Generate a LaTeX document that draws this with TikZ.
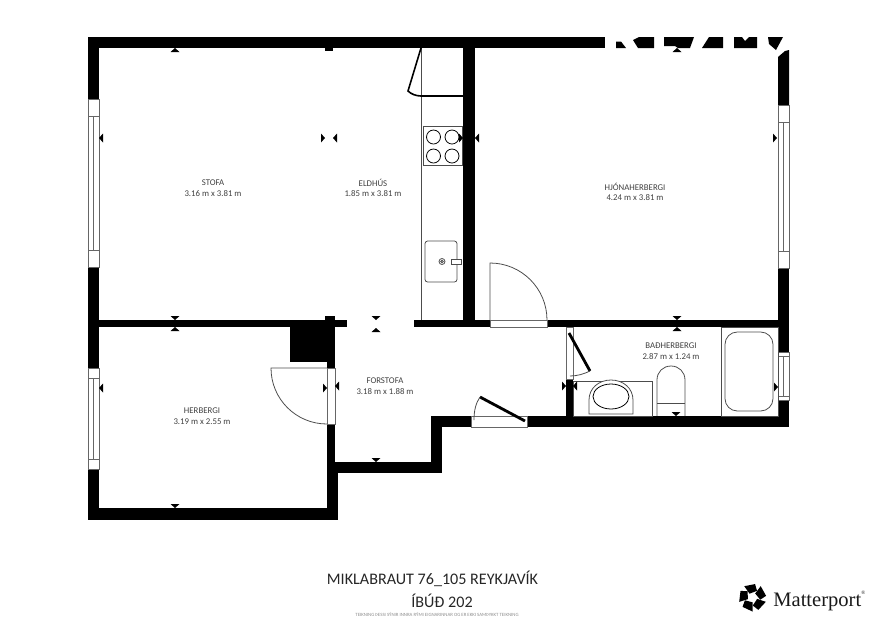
\documentclass[tikz,border=0pt]{standalone}
\usepackage{fontspec}
\setmainfont{Carlito}
\newfontfamily\logofont{Liberation Serif}
\tikzset{
  plan wall/.style={fill=black},
  plan gap/.style={draw=black!60, fill=white, line width=0.4pt},
  plan fixture/.style={draw=black!70, line width=0.45pt},
  plan door/.style={draw=black, line width=1.6pt},
  plan swing/.style={draw=black!70, line width=0.45pt},
  plan mark/.style={fill=black},
  plan room/.style={font=\fontsize{5}{6}\selectfont, text=black!75, inner sep=0pt},
  plan title/.style={font=\fontsize{9.17}{11}\selectfont, text=black!85, inner sep=0pt},
  plan tiny/.style={font=\fontsize{2.75}{3}\selectfont, text=black!45, inner sep=0pt},
}
\begin{document}
\begin{tikzpicture}[x=0.02cm, y=-0.02cm]
    \useasboundingbox (0,0) rectangle (877,620);
    % walls
    \foreach \xa/\ya/\xb/\yb in {88/37/605/48, 88/37/99/99, 88/267/99/368, 88/469/99/520, 88/508/338/520,
        99/320/347/327, 414/320/490/327, 547/320/789/327, 463/48/475/320, 290/327/327/362,
        327/316/335/368, 325/316/335/320, 327/424/335/473, 327/473/338/520, 335/462/442/473,
        431/416/442/473, 431/416/471/427, 527/416/789/427, 778/268/789/352, 778/400/789/427,
        566/379/573/416, 324.5/48/332.5/51}
      \fill[plan wall] (\xa,\ya) rectangle (\xb,\yb);
    % leftovers of the top wall
    \fill[plan wall] (616,41.5) -- (621,41.5) -- (626,48) -- (616,48) -- cycle;
    \fill[plan wall] (633,40) -- (639,37) -- (654,37) -- (654,48) -- (638,48) -- cycle;
    \fill[plan wall] (664,37) -- (694,37) -- (690,48) -- (678,48) -- (675,46) -- (664,46) -- cycle;
    \fill[plan wall] (709,37) -- (723,37) -- (723,48) -- (702,48) -- cycle;
    \fill[plan wall] (734,37) -- (742,37) -- (745,41) -- (749,37) -- (757,37) -- (757,48) -- (734,48) -- cycle;
    \fill[plan wall] (768,37) -- (783,37) -- (776,50) -- (769,44) -- cycle;
    \fill[plan wall] (778,57) -- (785,51) -- (789,50) -- (789,105) -- (778,105) -- cycle;
    % windows and door openings
    \foreach \xa/\ya/\xb/\yb in {88/99/99/116, 88/116/99/250, 88/250/99/267, 88/368/99/378, 88/378/99/459, 88/459/99/469,
        778/105/789/122, 778/122/789/251, 778/251/789/268, 778/352/789/400, 778/356/789/396,
        327/368/335/424, 490/320/547/327, 471/416/527/427, 566/327/573/379}
      \draw[plan gap] (\xa,\ya) rectangle (\xb,\yb);
    \draw[plan gap] (93.5,116) -- (93.5,250);
    \draw[plan gap] (93.5,378) -- (93.5,459);
    \draw[plan gap] (783.5,122) -- (783.5,251);
    \draw[plan gap] (783.5,356) -- (783.5,396);
    % doors
    \draw[plan swing] (490,320) -- (490,263) .. controls (521.5,263) and (547,288.5) .. (547,320);
    \draw[plan swing] (327,368) -- (271,368) .. controls (271,399) and (296,424) .. (327,424);
    \draw[plan door] (480,397) -- (525,421);
    \draw[plan swing] (474,420) .. controls (474,410) and (476,403) .. (480,397);
    \draw[plan door] (569,333) -- (590,371);
    \draw[plan swing] (590,371) .. controls (584,374) and (577,376) .. (570,376);
    % kitchen
    \draw[plan fixture] (421,48) -- (421,320);
    \draw[plan door, line width=0.9pt] (421,48) -- (408,91) .. controls (411,94) and (416,96) .. (421,96) -- (463,96);
    \draw[plan fixture] (423,126) rectangle (462,165);
    \foreach \x/\y in {433.5/137, 452/137, 433.5/156, 452/156}
      \draw[plan fixture, draw=black] (\x,\y) circle [radius=7];
    \draw[plan fixture, rounded corners=1.5pt] (425,241) rectangle (457,282);
    \draw[plan fixture] (442,261.5) circle [radius=3];
    \draw[plan fixture] (442,261.5) circle [radius=1.3];
    \draw[plan fixture, fill=white] (451,259) rectangle (461,264);
    % bathroom
    \draw[plan fixture] (721,327) rectangle (778,416);
    \draw[plan fixture, rounded corners=7pt] (725,332) rectangle (773,411);
    \draw[plan fixture] (657,416) -- (657,380) .. controls (657,372) and (663,366) .. (671,366)
       .. controls (679,366) and (685,372) .. (685,380) -- (685,416);
    \draw[plan fixture] (657,403) -- (685,403);
    \draw[plan fixture] (573,381) rectangle (652,416);
    \draw[plan fixture, fill=white] (589,414) -- (589,400) .. controls (589,388) and (599,380) .. (611,380)
       .. controls (623,380) and (633,388) .. (633,400) -- (633,414) -- cycle;
    \draw[plan fixture, draw=black] (611,396.5) ellipse [x radius=18, y radius=12.5];
    % small marks on the walls
    \foreach \x/\y in {175/48, 677/48, 175/327, 376/328, 677/327}
      \fill[plan mark] (\x,\y) -- ++(-4.5,4) -- ++(9,0) -- cycle;
    \foreach \x/\y in {175/320, 376/320, 677/320, 175/508, 376/462, 676/416}
      \fill[plan mark] (\x,\y) -- ++(-4.5,-4) -- ++(9,0) -- cycle;
    \foreach \x/\y in {99/138, 475/138, 333/138, 335/386, 99/388, 573/386}
      \fill[plan mark] (\x,\y) -- ++(4,-4.5) -- ++(0,9) -- cycle;
    \foreach \x/\y in {463/138, 777/138, 325/138, 327/388, 566/386, 778/387}
      \fill[plan mark] (\x,\y) -- ++(-4,-4.5) -- ++(0,9) -- cycle;
    % room names
    \node (stofa) [plan room] at (213,183) {STOFA};
    \node (stofasize) [plan room] at (213,194) {3.16 m x 3.81 m};
    \node (eldhus) [plan room] at (373,183) {ELDHÚS};
    \node (eldhussize) [plan room] at (373,194) {1.85 m x 3.81 m};
    \node (hjona) [plan room] at (635,187) {HJÓNAHERBERGI};
    \node (hjonasize) [plan room] at (635,198) {4.24 m x 3.81 m};
    \node (bad) [plan room] at (671,346) {BAÐHERBERGI};
    \node (badsize) [plan room] at (671,357) {2.87 m x 1.24 m};
    \node (forstofa) [plan room] at (385,381) {FORSTOFA};
    \node (forstofasize) [plan room] at (385,392) {3.18 m x 1.88 m};
    \node (herbergi) [plan room] at (202,411) {HERBERGI};
    \node (herbergisize) [plan room] at (202,422) {3.19 m x 2.55 m};
    % footer
    \node (address) [plan title] at (432.5,579) {MIKLABRAUT 76\_105 REYKJAVÍK};
    \node (unit) [plan title] at (442,601) {ÍBÚÐ 202};
    \node (notice) [plan tiny] at (437,614.5) {TEIKNING ÞESSI SÝNIR INNRA RÝMI EIGNARINNAR OG ER EKKI SAMÞYKKT TEIKNING};
    \foreach \a in {90,162,234,306,18}
      \fill[black] (752.5,597.5) ++(\a:14) -- ++(\a+115:11) -- ++(\a+200:7) -- ++(\a+285:8) -- cycle;
    \node (brand) [anchor=base west, inner sep=0pt, font=\logofont\fontsize{11.7}{13}\selectfont, text=black!90] at (773,606) {Matterport\raisebox{1.2ex}{\fontsize{3}{3}\selectfont®}};
  \end{tikzpicture}
\end{document}
